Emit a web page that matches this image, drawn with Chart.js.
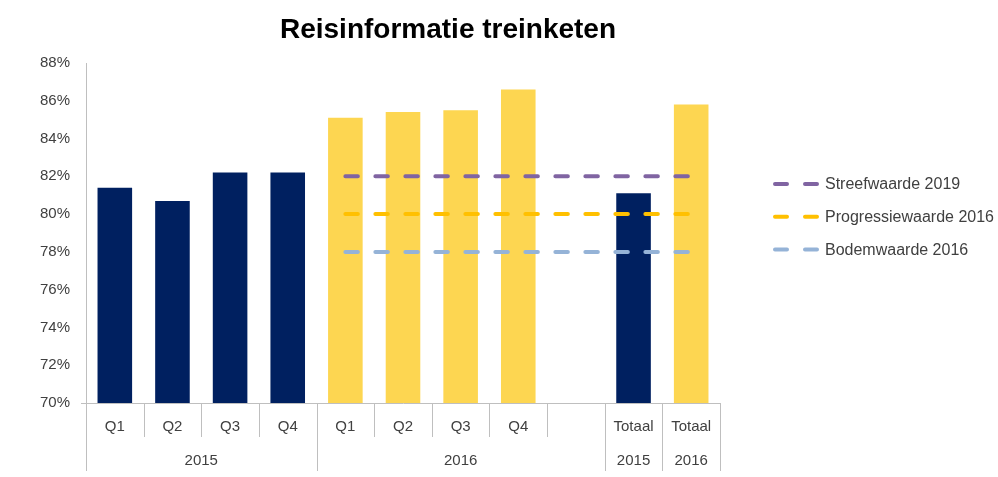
<!DOCTYPE html>
<html>
<head>
<meta charset="utf-8">
<title>Reisinformatie treinketen</title>
<script src="https://cdn.jsdelivr.net/npm/chart.js@4.4.0/dist/chart.umd.min.js"></script>
<style>
  body { margin: 0; background: #fff; }
</style>
</head>
<body>
<canvas id="chart" width="998" height="477"></canvas>
<script>
// data
const quarterLabels = ["Q1", "Q2", "Q3", "Q4", "Q1", "Q2", "Q3", "Q4", "", "Totaal", "Totaal"];
const periodYears = [2015, 2015, 2015, 2015, 2016, 2016, 2016, 2016, null, 2015, 2016];
const yearGroups = [
    { label: "2015", first: 0, last: 3 },
    { label: "2016", first: 4, last: 8 },
    { label: "2015", first: 9, last: 9 },
    { label: "2016", first: 10, last: 10 }
];
const scoreValues = [81.4, 80.7, 82.2, 82.2, 85.1, 85.4, 85.5, 86.6, null, 81.1, 85.8];
const streefwaarde2019 = [null, null, null, null, 82, 82, 82, 82, 82, 82, 82];
const progressiewaarde2016 = [null, null, null, null, 80, 80, 80, 80, 80, 80, 80];
const bodemwaarde2016 = [null, null, null, null, 78, 78, 78, 78, 78, 78, 78];
const yTickValues = [70, 72, 74, 76, 78, 80, 82, 84, 86, 88];

const yearColors = { 2015: "#002060", 2016: "#FDD651" };
const textColor = "#404040";
const axisColor = "#bfbfbf";
const fontFamily = "'Liberation Sans', Arial, sans-serif";

const dashedLine = (label, data, color) => ({
    type: "line",
    label: label,
    data: data,
    borderColor: color,
    borderWidth: 4,
    borderDash: [12.5, 17.5],
    borderCapStyle: "round",
    pointRadius: 0,
    fill: false,
    order: 1
});

// two-row category axis (quarters + years)
const categoryAxis = {
    id: "categoryAxis",
    afterDraw(chart) {
        const ctx = chart.ctx;
        const x = chart.scales.x;
        const top = x.top;
        const half = (x.getPixelForValue(1) - x.getPixelForValue(0)) / 2;
        const edge = (i) => i < quarterLabels.length ? x.getPixelForValue(i) - half : x.getPixelForValue(i - 1) + half;

        ctx.save();
        ctx.strokeStyle = axisColor;
        ctx.lineWidth = 1;
        for (let i = 0; i <= quarterLabels.length; i++) {
            const isGroupEdge = yearGroups.some(g => g.first === i || g.last + 1 === i);
            const px = Math.round(edge(i)) + 0.5;
            ctx.beginPath();
            ctx.moveTo(px, top);
            ctx.lineTo(px, top + (isGroupEdge ? 68 : 34));
            ctx.stroke();
        }
        // small tick left of the axis at the baseline
        ctx.beginPath();
        ctx.moveTo(x.left - 5, Math.round(top) + 0.5);
        ctx.lineTo(x.left, Math.round(top) + 0.5);
        ctx.stroke();

        ctx.fillStyle = textColor;
        ctx.font = "15px " + fontFamily;
        ctx.textAlign = "center";
        ctx.textBaseline = "middle";
        quarterLabels.forEach((label, i) => {
            ctx.fillText(label, x.getPixelForValue(i), top + 24);
        });
        yearGroups.forEach(g => {
            const cx = (edge(g.first) + edge(g.last + 1)) / 2;
            ctx.fillText(g.label, cx, top + 58);
        });
        ctx.restore();
    }
};

// title and Excel style legend
const titleAndLegend = {
    id: "titleAndLegend",
    afterDraw(chart) {
        const ctx = chart.ctx;
        ctx.save();
        ctx.fillStyle = "#000";
        ctx.font = "bold 28px " + fontFamily;
        ctx.textAlign = "center";
        ctx.textBaseline = "alphabetic";
        ctx.fillText("Reisinformatie treinketen", 448, 38);

        const lines = chart.data.datasets.filter(d => d.type === "line");
        ctx.font = "16px " + fontFamily;
        ctx.textAlign = "left";
        ctx.textBaseline = "middle";
        ctx.lineCap = "round";
        ctx.lineWidth = 4;
        lines.forEach((d, i) => {
            const y = 184 + i * 32.7;
            ctx.strokeStyle = d.borderColor;
            ctx.beginPath();
            ctx.moveTo(775, y);
            ctx.lineTo(787, y);
            ctx.moveTo(805, y);
            ctx.lineTo(817, y);
            ctx.stroke();
            ctx.fillStyle = textColor;
            ctx.fillText(d.label, 825, y + 1);
        });
        ctx.restore();
    }
};

new Chart(document.getElementById("chart"), {
    type: "bar",
    data: {
        labels: quarterLabels,
        datasets: [
            dashedLine("Streefwaarde 2019", streefwaarde2019, "#8064A2"),
            dashedLine("Progressiewaarde 2016", progressiewaarde2016, "#FFC000"),
            dashedLine("Bodemwaarde 2016", bodemwaarde2016, "#95B3D7"),
            {
                type: "bar",
                label: "Reisinformatie",
                data: scoreValues,
                backgroundColor: periodYears.map(y => yearColors[y] || "transparent"),
                categoryPercentage: 1,
                barPercentage: 0.6,
                order: 2
            }
        ]
    },
    options: {
        responsive: false,
        animation: false,
        layout: { padding: { top: 63, right: 278, bottom: 0, left: 0 } },
        plugins: {
            legend: { display: false },
            title: { display: false },
            tooltip: { enabled: false }
        },
        scales: {
            x: {
                grid: { display: false },
                border: { display: true, color: axisColor },
                ticks: { display: false },
                afterFit: (scale) => { scale.height = 74; }
            },
            y: {
                min: 70,
                max: 88,
                grid: { display: false },
                border: { display: true, color: axisColor },
                afterBuildTicks: (scale) => { scale.ticks = yTickValues.map(v => ({ value: v })); },
                afterFit: (scale) => { scale.width = 86; },
                ticks: {
                    padding: 8,
                    color: textColor,
                    font: { family: fontFamily, size: 15 },
                    callback: (v) => v + "%"
                }
            }
        }
    },
    plugins: [categoryAxis, titleAndLegend]
});
</script>
</body>
</html>
